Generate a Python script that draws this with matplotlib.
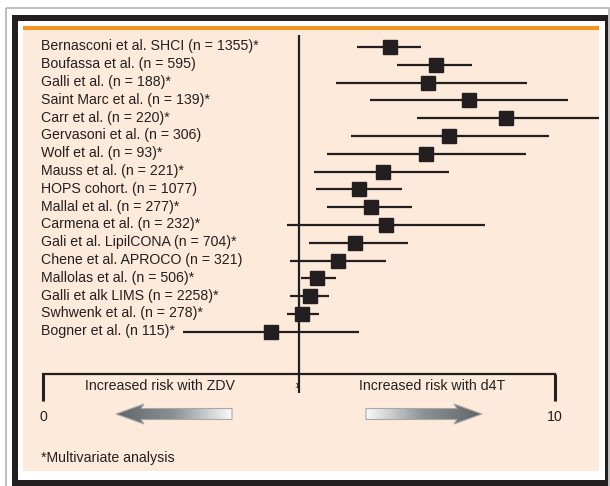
import numpy as np
import matplotlib
matplotlib.use('Agg')
import matplotlib.pyplot as plt
from matplotlib.patches import Rectangle, Polygon

plt.rcParams['font.family'] = ['Liberation Sans Narrow', 'Liberation Sans', 'DejaVu Sans']

# studies, odds ratio and 95% CI (log scale 0.1 .. 10)
studies = ['Bernasconi et al. SHCI (n = 1355)*', 'Boufassa et al. (n = 595)',
           'Galli et al. (n = 188)*', 'Saint Marc et al. (n = 139)*',
           'Carr et al. (n = 220)*', 'Gervasoni et al. (n = 306)',
           'Wolf et al. (n = 93)*', 'Mauss et al. (n = 221)*',
           'HOPS cohort. (n = 1077)', 'Mallal et al. (n = 277)*',
           'Carmena et al. (n = 232)*', 'Gali et al. LipilCONA (n = 704)*',
           'Chene et al. APROCO (n = 321)', 'Mallolas et al. (n = 506)*',
           'Galli et alk LIMS (n = 2258)*', 'Swhwenk et al. (n = 278)*',
           'Bogner et al. (n 115)*']
odds = [2.27, 3.43, 3.20, 4.60, 6.42, 3.87, 3.13, 2.12, 1.72, 1.91,
        2.19, 1.66, 1.42, 1.18, 1.10, 1.03, 0.78]
ci_low = [1.69, 2.42, 1.39, 1.89, 2.88, 1.59, 1.29, 1.14, 1.17, 1.29,
          0.90, 1.09, 0.92, 1.015, 0.92, 0.90, 0.353]
ci_high = [3.00, 4.74, 7.79, 11.2, 20.0, 9.45, 7.68, 3.87, 2.52, 2.77,
           5.33, 2.66, 2.19, 1.39, 1.31, 1.20, 1.72]
scale_ticks = [0.1, 1, 10]
scale_labels = ['0', '1', '10']

dark = '#231f20'
peach = '#fdeada'
orange = '#f7941d'

W, H = 610, 486
fig = plt.figure(figsize=(W / 100, H / 100), dpi=100)

# frame / background in pixel coordinates
bg = fig.add_axes([0, 0, 1, 1])
bg.set_xlim(0, W)
bg.set_ylim(H, 0)
bg.axis('off')
bg.add_patch(Rectangle((6, 8), 603, 500, fill=False, ec='#b4b4b4', lw=1.2))
bg.add_patch(Rectangle((12, 15), 596, 480, fc=dark, ec='none'))
bg.add_patch(Rectangle((18, 21), 587, 459, fc='white', ec='none'))
bg.add_patch(Rectangle((23, 26), 576, 445, fc=peach, ec='none'))
bg.add_patch(Rectangle((23, 26), 576, 4, fc=orange, ec='none'))

# forest plot axes covering the peach panel
px0, px1, py0, py1 = 23, 599, 30, 471
ax = fig.add_axes([px0 / W, 1 - py1 / H, (px1 - px0) / W, (py1 - py0) / H])
ax.patch.set_alpha(0)
ax.set_xscale('log')
ax.set_xlim(10 ** ((px0 - 299) / 256), 10 ** ((px1 - 299) / 256))
row_px = lambda p: (p - 47) / 17.8
ax.set_ylim(row_px(py1), row_px(py0))
ax.axis('off')

rows = np.arange(len(studies))
ax.hlines(rows, ci_low, ci_high, color=dark, lw=1.6, zorder=3)
ax.plot(odds, rows, 's', ms=10.5, color=dark, zorder=4)
for r, name in zip(rows, studies):
    ax.text((41 - px0) / (px1 - px0), r - 0.03, name, transform=ax.get_yaxis_transform(),
            ha='left', va='center', fontsize=10.2, color=dark)

# reference line at 1
ax.vlines(1, row_px(35), row_px(393), color=dark, lw=1.6, zorder=2)

# scale bar
ax.plot([scale_ticks[0], scale_ticks[-1]], [row_px(374)] * 2, color=dark, lw=1.6)
ax.vlines([scale_ticks[0], scale_ticks[-1]], row_px(374), row_px(401), color=dark, lw=2.2)
ax.text(scale_ticks[1], row_px(386), scale_labels[1], ha='right', va='center',
        fontsize=6, color=dark, zorder=1)
for t, lab in zip([scale_ticks[0], scale_ticks[-1]], [scale_labels[0], scale_labels[-1]]):
    ax.text(t, row_px(417), lab, ha='center', va='center', fontsize=10.2, color=dark)

bg.text(160, 386, 'Increased risk with ZDV', ha='center', va='center', fontsize=10.2, color=dark)
bg.text(432, 386, 'Increased risk with d4T', ha='center', va='center', fontsize=10.2, color=dark)
bg.text(41, 458, '*Multivariate analysis', ha='left', va='center', fontsize=10.2, color=dark)


def grad_arrow(tip, tail, yc, left):
    head = 28 if left else -28
    pts = [(tip, yc), (tip + head, yc - 10), (tip + head - (3 if left else -3), yc - 5.5),
           (tail, yc - 5.5), (tail, yc + 5.5),
           (tip + head - (3 if left else -3), yc + 5.5), (tip + head, yc + 10)]
    poly = Polygon(pts, closed=True, fc='none', ec='#a8a8a8', lw=0.8, zorder=3)
    bg.add_patch(poly)
    g = np.linspace(0, 1, 256)[None, :]
    if not left:
        g = g[:, ::-1]
    x0, x1 = min(tip, tail), max(tip, tail)
    cmap = matplotlib.colors.LinearSegmentedColormap.from_list('g', ['#5e6467', '#8c9194', '#fafafa'])
    im = bg.imshow(g, cmap=cmap, extent=(x0, x1, yc + 11, yc - 11), aspect='auto', zorder=2)
    im.set_clip_path(poly)


grad_arrow(116, 232, 414, True)
grad_arrow(482, 366, 414, False)
bg.set_xlim(0, W)
bg.set_ylim(H, 0)

fig.savefig('out.png', dpi=100)
